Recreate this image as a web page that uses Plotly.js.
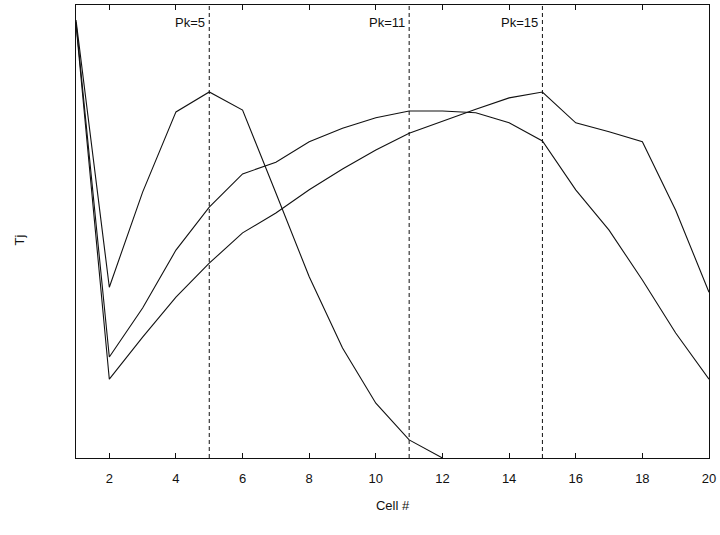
<!DOCTYPE html>
<html>
<head>
<meta charset="utf-8">
<script src="https://cdn.plot.ly/plotly-3.0.1.min.js"></script>
<style>html,body{margin:0;padding:0;background:#fff;}#chart{width:720px;height:535px;}</style>
</head>
<body>
<div id="chart"></div>
<script>
// Cell numbers
const cells = [1,2,3,4,5,6,7,8,9,10,11,12,13,14,15,16,17,18,19,20];
// Tj values (arbitrary units) for each peak position
const tjPk5  = [96.7,37.7,58.7,76.4,80.8,76.8,58.5,40.0,24.3,12.1,4.0,0];
const tjPk11 = [96.2,22.3,33.1,45.9,55.4,62.7,65.3,69.8,72.8,75.1,76.6,76.6,76.2,74.0,70.0,59.2,50.3,39.3,27.6,17.4];
const tjPk15 = [95.8,17.4,26.7,35.5,43.0,49.7,54.1,59.2,63.8,68.0,71.7,74.4,77.0,79.5,80.8,74.0,72.0,69.8,54.7,36.6];
const peaks = [5, 11, 15];
const peakLabels = ["Pk=5", "Pk=11", "Pk=15"];
const xTicks = [2,4,6,8,10,12,14,16,18,20];

const series = [tjPk5, tjPk11, tjPk15];
const traces = series.map((ys, i) => ({
  x: cells.slice(0, ys.length),
  y: ys,
  type: 'scatter',
  mode: 'lines',
  line: {color: '#111', width: 1.1},
  name: peakLabels[i],
  showlegend: false,
  hoverinfo: 'skip'
}));

const shapes = peaks.map(p => ({
  type: 'line', xref: 'x', yref: 'paper',
  x0: p, x1: p, y0: 0, y1: 1,
  line: {color: '#111', width: 1, dash: '4px,3px'}
}));

const font = {family: 'Liberation Sans, Arial, sans-serif', size: 13, color: '#111'};

const annotations = peaks.map((p, i) => ({
  x: p, y: 0.962, xref: 'x', yref: 'paper',
  text: peakLabels[i], showarrow: false,
  xanchor: 'right', yanchor: 'middle', xshift: -2,
  font: font
}));
// y-axis title placed slightly below centre, as in the original
annotations.push({
  x: 0, y: 0.48, xref: 'paper', yref: 'paper',
  text: 'Tj', showarrow: false, textangle: -90,
  xanchor: 'center', yanchor: 'middle', xshift: -56,
  font: font
});

const layout = {
  width: 720, height: 535,
  margin: {l: 76, r: 11, t: 5, b: 77},
  paper_bgcolor: '#fff', plot_bgcolor: '#fff',
  font: font,
  showlegend: false,
  xaxis: {
    range: [1, 20],
    tickmode: 'array', tickvals: xTicks, ticktext: xTicks.map(String),
    ticks: 'inside', ticklen: 5, tickwidth: 1, tickcolor: '#111',
    mirror: 'ticks', showline: true, linecolor: '#111', linewidth: 1.3,
    showgrid: false, zeroline: false,
    ticklabelstandoff: 8,
    tickfont: font,
    title: {text: 'Cell #', font: font, standoff: 16}
  },
  yaxis: {
    range: [0, 100],
    showticklabels: false, ticks: '',
    mirror: true, showline: true, linecolor: '#111', linewidth: 1.3,
    showgrid: false, zeroline: false
  },
  shapes: shapes,
  annotations: annotations
};

Plotly.newPlot('chart', traces, layout, {staticPlot: true, displayModeBar: false});
</script>
</body>
</html>
